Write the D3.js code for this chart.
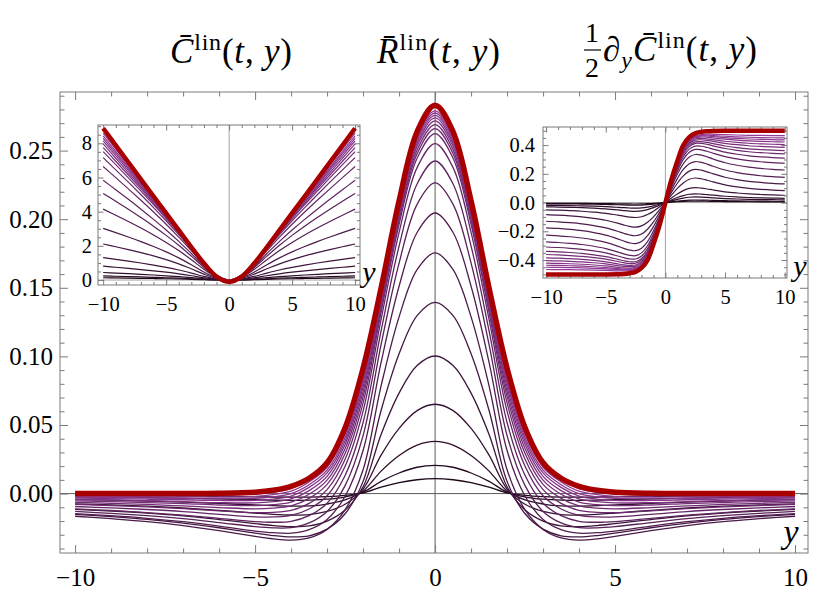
<!DOCTYPE html>
<html lang="en">
<head>
<meta charset="UTF-8">
<title>R lin family</title>
<script src="https://d3js.org/d3.v7.min.js"></script>
<style>
  body { margin: 0; background: #fff; }
  svg { display: block; }
</style>
</head>
<body>
<svg id="chart" width="830" height="600"></svg>
<script>
// ---- data (positive half only; R and C are even in y, the derivative is odd) ----
const yR = [0, 0.5, 1, 1.5, 2, 2.5, 3, 3.5, 4, 4.5, 5, 6, 7, 8, 9, 10];
const rCurves = [
  [0.0109, 0.0101, 0.0080, 0.0047, 0.0005, -0.0013, -0.0022, -0.0026, -0.0026, -0.0025, -0.0024, -0.0020, -0.0018, -0.0015, -0.0014, -0.0013],
  [0.0206, 0.0192, 0.0150, 0.0089, 0.0010, -0.0025, -0.0041, -0.0048, -0.0049, -0.0048, -0.0045, -0.0039, -0.0033, -0.0029, -0.0026, -0.0024],
  [0.0381, 0.0354, 0.0278, 0.0164, 0.0019, -0.0046, -0.0076, -0.0090, -0.0091, -0.0088, -0.0083, -0.0072, -0.0062, -0.0054, -0.0048, -0.0044],
  [0.0651, 0.0605, 0.0475, 0.0280, 0.0033, -0.0078, -0.0130, -0.0153, -0.0156, -0.0151, -0.0142, -0.0122, -0.0105, -0.0092, -0.0083, -0.0075],
  [0.1003, 0.0933, 0.0732, 0.0431, 0.0050, -0.0120, -0.0201, -0.0236, -0.0241, -0.0233, -0.0219, -0.0189, -0.0162, -0.0142, -0.0127, -0.0115],
  [0.1394, 0.1297, 0.1019, 0.0606, 0.0089, -0.0147, -0.0259, -0.0308, -0.0316, -0.0306, -0.0288, -0.0249, -0.0215, -0.0188, -0.0168, -0.0152],
  [0.1754, 0.1632, 0.1288, 0.0785, 0.0174, -0.0119, -0.0261, -0.0323, -0.0339, -0.0330, -0.0312, -0.0270, -0.0233, -0.0204, -0.0183, -0.0165],
  [0.2045, 0.1903, 0.1511, 0.0956, 0.0314, -0.0019, -0.0188, -0.0262, -0.0288, -0.0285, -0.0273, -0.0237, -0.0205, -0.0180, -0.0161, -0.0146],
  [0.2264, 0.2108, 0.1680, 0.1086, 0.0422, 0.0058, -0.0130, -0.0214, -0.0248, -0.0250, -0.0241, -0.0211, -0.0183, -0.0161, -0.0144, -0.0130],
  [0.2424, 0.2257, 0.1804, 0.1186, 0.0518, 0.0132, -0.0070, -0.0161, -0.0202, -0.0209, -0.0204, -0.0180, -0.0157, -0.0138, -0.0123, -0.0112],
  [0.2551, 0.2376, 0.1904, 0.1269, 0.0601, 0.0199, -0.0016, -0.0112, -0.0159, -0.0170, -0.0169, -0.0151, -0.0131, -0.0116, -0.0104, -0.0094],
  [0.2624, 0.2444, 0.1962, 0.1321, 0.0661, 0.0250, 0.0029, -0.0071, -0.0123, -0.0137, -0.0139, -0.0126, -0.0110, -0.0097, -0.0087, -0.0078],
  [0.2660, 0.2478, 0.1992, 0.1352, 0.0707, 0.0292, 0.0067, -0.0035, -0.0090, -0.0106, -0.0111, -0.0102, -0.0090, -0.0079, -0.0071, -0.0064],
  [0.2689, 0.2505, 0.2017, 0.1377, 0.0744, 0.0327, 0.0098, -0.0005, -0.0063, -0.0081, -0.0088, -0.0083, -0.0073, -0.0065, -0.0058, -0.0053],
  [0.2716, 0.2531, 0.2039, 0.1401, 0.0777, 0.0358, 0.0126, 0.0022, -0.0039, -0.0059, -0.0068, -0.0066, -0.0059, -0.0052, -0.0046, -0.0042],
  [0.2738, 0.2551, 0.2058, 0.1420, 0.0806, 0.0384, 0.0151, 0.0045, -0.0018, -0.0040, -0.0050, -0.0050, -0.0045, -0.0041, -0.0036, -0.0033],
  [0.2757, 0.2569, 0.2074, 0.1437, 0.0830, 0.0407, 0.0171, 0.0065, 0.0000, -0.0023, -0.0035, -0.0038, -0.0035, -0.0031, -0.0028, -0.0025],
  [0.2774, 0.2585, 0.2088, 0.1452, 0.0854, 0.0430, 0.0192, 0.0085, 0.0018, -0.0007, -0.0020, -0.0025, -0.0024, -0.0022, -0.0019, -0.0017],
  [0.2789, 0.2599, 0.2101, 0.1467, 0.0878, 0.0453, 0.0213, 0.0105, 0.0037, 0.0010, -0.0004, -0.0012, -0.0013, -0.0012, -0.0011, -0.0010]
];
const rFinal = [0.2830, 0.2637, 0.2133, 0.1498, 0.0914, 0.0480, 0.0225, 0.0112, 0.0053, 0.0024, 0.0010, 0.0002, 0, 0, 0, 0];

const yC = [0, 1, 2, 3, 4, 5, 6, 7, 8, 9, 10];
const cCurves = [
  [0, 0.006, 0.022, 0.041, 0.060, 0.075, 0.089, 0.101, 0.112, 0.123, 0.133],
  [0, 0.011, 0.039, 0.075, 0.107, 0.135, 0.160, 0.182, 0.202, 0.221, 0.239],
  [0, 0.020, 0.072, 0.138, 0.197, 0.249, 0.294, 0.334, 0.371, 0.406, 0.440],
  [0, 0.036, 0.132, 0.253, 0.363, 0.458, 0.541, 0.615, 0.684, 0.748, 0.809],
  [0, 0.059, 0.214, 0.409, 0.589, 0.742, 0.876, 0.997, 1.108, 1.211, 1.310],
  [0, 0.094, 0.345, 0.658, 0.948, 1.194, 1.410, 1.604, 1.783, 1.949, 2.108],
  [0, 0.129, 0.471, 0.897, 1.297, 1.647, 1.961, 2.249, 2.518, 2.774, 3.020],
  [0, 0.172, 0.626, 1.190, 1.725, 2.202, 2.637, 3.041, 3.424, 3.791, 4.147],
  [0, 0.204, 0.737, 1.399, 2.035, 2.614, 3.151, 3.657, 4.142, 4.611, 5.069],
  [0, 0.227, 0.818, 1.550, 2.263, 2.925, 3.549, 4.145, 4.721, 5.283, 5.835],
  [0, 0.254, 0.908, 1.718, 2.514, 3.264, 3.978, 4.666, 5.335, 5.991, 6.640],
  [0, 0.269, 0.960, 1.814, 2.660, 3.467, 4.241, 4.992, 5.726, 6.448, 7.160],
  [0, 0.278, 0.991, 1.870, 2.748, 3.591, 4.407, 5.201, 5.981, 6.750, 7.510],
  [0, 0.283, 1.006, 1.898, 2.793, 3.661, 4.504, 5.331, 6.145, 6.950, 7.750],
  [0, 0.287, 1.019, 1.920, 2.831, 3.720, 4.589, 5.443, 6.287, 7.124, 7.960],
  [0, 0.291, 1.032, 1.943, 2.868, 3.776, 4.667, 5.545, 6.416, 7.280, 8.140],
  [0, 0.293, 1.041, 1.959, 2.896, 3.819, 4.728, 5.626, 6.519, 7.406, 8.290],
  [0, 0.296, 1.046, 1.969, 2.913, 3.848, 4.775, 5.695, 6.610, 7.521, 8.430],
  [0, 0.300, 1.055, 1.982, 2.937, 3.889, 4.836, 5.779, 6.718, 7.656, 8.590]
];
const cFinal = [-0.1, 0.20, 0.98, 1.93, 2.92, 3.91, 4.90, 5.89, 6.89, 7.88, 8.88];

const yD = [0, 0.5, 1, 1.5, 2, 2.5, 3, 3.5, 4, 5, 6, 7, 8, 9, 10];
const dCurves = [
  [0, 0.0030, 0.0058, 0.0080, 0.0095, 0.0100, 0.0097, 0.0091, 0.0084, 0.0072, 0.0064, 0.0058, 0.0054, 0.0051, 0.0049],
  [0, 0.0054, 0.0104, 0.0144, 0.0171, 0.0180, 0.0175, 0.0164, 0.0151, 0.0130, 0.0115, 0.0104, 0.0097, 0.0092, 0.0088],
  [0, 0.0117, 0.0226, 0.0312, 0.0370, 0.0390, 0.0378, 0.0355, 0.0328, 0.0281, 0.0250, 0.0226, 0.0211, 0.0199, 0.0191],
  [0, 0.0183, 0.0354, 0.0488, 0.0580, 0.0610, 0.0592, 0.0555, 0.0512, 0.0439, 0.0390, 0.0354, 0.0329, 0.0311, 0.0299],
  [0, 0.0312, 0.0603, 0.0832, 0.0988, 0.1040, 0.1009, 0.0946, 0.0874, 0.0749, 0.0666, 0.0603, 0.0562, 0.0530, 0.0510],
  [0, 0.0513, 0.0992, 0.1368, 0.1625, 0.1710, 0.1659, 0.1556, 0.1436, 0.1231, 0.1094, 0.0992, 0.0923, 0.0872, 0.0838],
  [0, 0.0702, 0.1346, 0.1856, 0.2191, 0.2308, 0.2255, 0.2138, 0.1999, 0.1760, 0.1600, 0.1480, 0.1400, 0.1340, 0.1300],
  [0, 0.0878, 0.1670, 0.2304, 0.2709, 0.2856, 0.2803, 0.2678, 0.2527, 0.2264, 0.2088, 0.1956, 0.1868, 0.1802, 0.1758],
  [0, 0.1041, 0.1966, 0.2712, 0.3173, 0.3347, 0.3305, 0.3185, 0.3036, 0.2774, 0.2598, 0.2466, 0.2378, 0.2312, 0.2268],
  [0, 0.1163, 0.2181, 0.3008, 0.3502, 0.3697, 0.3672, 0.3569, 0.3436, 0.3200, 0.3040, 0.2920, 0.2840, 0.2780, 0.2740],
  [0, 0.1247, 0.2326, 0.3208, 0.3721, 0.3930, 0.3921, 0.3835, 0.3718, 0.3506, 0.3362, 0.3254, 0.3182, 0.3128, 0.3092],
  [0, 0.1315, 0.2442, 0.3368, 0.3895, 0.4116, 0.4120, 0.4050, 0.3949, 0.3762, 0.3634, 0.3538, 0.3474, 0.3426, 0.3394],
  [0, 0.1358, 0.2511, 0.3464, 0.3996, 0.4225, 0.4241, 0.4186, 0.4100, 0.3938, 0.3826, 0.3742, 0.3686, 0.3644, 0.3616],
  [0, 0.1403, 0.2587, 0.3568, 0.4107, 0.4343, 0.4372, 0.4332, 0.4261, 0.4124, 0.4028, 0.3956, 0.3908, 0.3872, 0.3848],
  [0, 0.1436, 0.2639, 0.3640, 0.4181, 0.4422, 0.4463, 0.4439, 0.4383, 0.4270, 0.4190, 0.4130, 0.4090, 0.4060, 0.4040],
  [0, 0.1471, 0.2697, 0.3720, 0.4266, 0.4513, 0.4564, 0.4551, 0.4506, 0.4412, 0.4344, 0.4293, 0.4259, 0.4234, 0.4217],
  [0, 0.1496, 0.2738, 0.3776, 0.4323, 0.4575, 0.4635, 0.4633, 0.4600, 0.4524, 0.4468, 0.4426, 0.4398, 0.4377, 0.4363],
  [0, 0.1512, 0.2758, 0.3804, 0.4347, 0.4602, 0.4672, 0.4685, 0.4666, 0.4615, 0.4575, 0.4545, 0.4525, 0.4510, 0.4500],
  [0, 0.1533, 0.2790, 0.3848, 0.4389, 0.4648, 0.4729, 0.4756, 0.4753, 0.4726, 0.4702, 0.4684, 0.4672, 0.4663, 0.4657]
];
const dFinal = [0, 0.160, 0.290, 0.400, 0.455, 0.482, 0.492, 0.497, 0.499, 0.500, 0.500, 0.500, 0.500, 0.500, 0.500];

// tick values
const mainXMajor = [-10, -5, 0, 5, 10];
const mainYMajor = [0, 0.05, 0.10, 0.15, 0.20, 0.25];
const insetXMajor = [-10, -5, 0, 5, 10];
const leftYMajor = [0, 2, 4, 6, 8];
const rightYMajor = [-0.4, -0.2, 0, 0.2, 0.4];

// ---- drawing ----
const FONT = "'Liberation Serif','DejaVu Serif',serif";
const svg = d3.select("#chart");
const frameGray = "#7a7a7a";
const curveColor = d3.scaleLinear().domain([0, rCurves.length - 1])
  .range(["#1c0618", "#953a98"]).interpolate(d3.interpolateRgb.gamma(1.3));

// mirrored point lists
function evenPts(ys, vs) {
  const left = ys.slice(1).map((y, i) => [-y, vs[i + 1]]).reverse();
  return left.concat(ys.map((y, i) => [y, vs[i]]));
}
function oddPts(ys, vs) {
  const left = ys.slice(1).map((y, i) => [-y, -vs[i + 1]]).reverse();
  return left.concat(ys.map((y, i) => [y, vs[i]]));
}
function range(a, b, s) {
  const out = [];
  for (let v = a; v <= b + 1e-9; v += s) out.push(+v.toFixed(4));
  return out;
}

function drawPanel(o) {
  const g = svg.append("g");
  const x = o.x, y = o.y;
  const [X0, X1] = x.range(), [Y0, Y1] = y.range();
  const id = "clip" + o.name;

  g.append("clipPath").attr("id", id).append("rect")
    .attr("x", X0).attr("y", Y1).attr("width", X1 - X0).attr("height", Y0 - Y1);
  g.append("rect").attr("x", X0).attr("y", Y1).attr("width", X1 - X0).attr("height", Y0 - Y1)
    .attr("fill", "#fff");

  // zero axes
  g.append("line").attr("x1", X0).attr("x2", X1).attr("y1", y(0)).attr("y2", y(0))
    .attr("stroke", o.axisColor).attr("stroke-width", 0.9);
  g.append("line").attr("x1", x(0)).attr("x2", x(0)).attr("y1", Y0).attr("y2", Y1)
    .attr("stroke", o.axisColor).attr("stroke-width", 0.9);

  // ticks on all four sides, pointing inward
  const xMinor = range(-10, 10, 1).filter(v => !o.xMajor.includes(v));
  const yMinor = o.yMinor.filter(v => !o.yMajor.some(m => Math.abs(m - v) < 1e-6));
  const axes = [
    [d3.axisBottom(x).tickValues(o.xMajor).tickSize(-o.major).tickPadding(o.xPad).tickFormat(d3.format("d")), `translate(0,${Y0})`],
    [d3.axisBottom(x).tickValues(xMinor).tickSize(-o.minor).tickFormat(""), `translate(0,${Y0})`],
    [d3.axisTop(x).tickValues(o.xMajor).tickSize(-o.major).tickFormat(""), `translate(0,${Y1})`],
    [d3.axisTop(x).tickValues(xMinor).tickSize(-o.minor).tickFormat(""), `translate(0,${Y1})`],
    [d3.axisLeft(y).tickValues(o.yMajor).tickSize(-o.major).tickPadding(o.yPad).tickFormat(o.yFormat), `translate(${X0},0)`],
    [d3.axisLeft(y).tickValues(yMinor).tickSize(-o.minor).tickFormat(""), `translate(${X0},0)`],
    [d3.axisRight(y).tickValues(o.yMajor).tickSize(-o.major).tickFormat(""), `translate(${X1},0)`],
    [d3.axisRight(y).tickValues(yMinor).tickSize(-o.minor).tickFormat(""), `translate(${X1},0)`]
  ];
  axes.forEach(([ax, tr]) => {
    const a = g.append("g").attr("transform", tr).call(ax);
    a.select(".domain").remove();
    a.selectAll(".tick line").attr("stroke", frameGray).attr("stroke-width", 1);
    a.selectAll(".tick text").attr("font-family", FONT).attr("font-size", o.fontSize).attr("fill", "#000");
  });

  // curves
  const line = d3.line().x(d => x(d[0])).y(d => y(d[1])).curve(d3.curveCatmullRom.alpha(0.5));
  const cg = g.append("g").attr("clip-path", `url(#${id})`);
  o.curves.forEach((vs, k) => {
    cg.append("path").attr("d", line(o.pts(o.ys, vs)))
      .attr("fill", "none").attr("stroke", curveColor(k)).attr("stroke-width", o.thin);
  });
  cg.append("path").attr("d", line(o.pts(o.ys, o.final)))
    .attr("fill", "none").attr("stroke", "#a80000").attr("stroke-width", o.thick)
    .attr("stroke-linejoin", "round");

  // frame
  g.append("rect").attr("x", X0).attr("y", Y1).attr("width", X1 - X0).attr("height", Y0 - Y1)
    .attr("fill", "none").attr("stroke", frameGray).attr("stroke-width", 1);

  // axis variable label
  g.append("text").attr("x", o.yLabel[0]).attr("y", o.yLabel[1])
    .attr("font-family", FONT).attr("font-style", "italic").attr("font-size", o.yLabel[2])
    .attr("text-anchor", "middle").text("y");
}

// main panel
drawPanel({
  name: "main",
  x: d3.scaleLinear().domain([-10.42, 10.36]).range([60, 808]),
  y: d3.scaleLinear().domain([-0.0433, 0.2927]).range([553, 92]),
  xMajor: mainXMajor, yMajor: mainYMajor, yMinor: range(-0.04, 0.29, 0.01),
  yFormat: d3.format(".2f"),
  major: 8, minor: 4.5, xPad: 15, yPad: 7, fontSize: 25,
  axisColor: "#4a4a4a",
  ys: yR, curves: rCurves, final: rFinal, pts: evenPts, thin: 1.3, thick: 5.5,
  yLabel: [791, 543, 34]
});

// left inset
drawPanel({
  name: "left",
  x: d3.scaleLinear().domain([-10.41, 10.39]).range([98, 360]),
  y: d3.scaleLinear().domain([-0.29, 9.07]).range([285, 125]),
  xMajor: insetXMajor, yMajor: leftYMajor, yMinor: range(0, 9, 0.5),
  yFormat: d3.format("d"),
  major: 5.5, minor: 3, xPad: 11, yPad: 6, fontSize: 20.5,
  axisColor: "#9a9a9a",
  ys: yC, curves: cCurves, final: cFinal, pts: evenPts, thin: 1.2, thick: 4.5,
  yLabel: [369, 282, 30]
});

// right inset
drawPanel({
  name: "right",
  x: d3.scaleLinear().domain([-10.26, 10.19]).range([543, 787]),
  y: d3.scaleLinear().domain([-0.525, 0.526]).range([278, 127]),
  xMajor: insetXMajor, yMajor: rightYMajor, yMinor: range(-0.5, 0.5, 0.05),
  yFormat: d3.format(".1f"),
  major: 5.5, minor: 3, xPad: 11, yPad: 8, fontSize: 20.5,
  axisColor: "#9a9a9a",
  ys: yD, curves: dCurves, final: dFinal, pts: oddPts, thin: 1.2, thick: 4.5,
  yLabel: [800, 276, 30]
});

// ---- titles ----
function mathLabel(x, y, size, width, parts) {
  const t = svg.append("text").attr("x", x).attr("y", y)
    .attr("font-family", FONT).attr("font-size", size).attr("fill", "#000")
    .attr("textLength", width).attr("lengthAdjust", "spacing");
  parts.forEach(([s, o = {}]) => {
    const ts = t.append("tspan").text(s);
    if (o.it) ts.attr("font-style", "italic");
    if (o.fs) ts.attr("font-size", o.fs);
    if (o.dy) ts.attr("dy", o.dy);
  });
}
const sup = (s) => [s, { fs: 24, dy: -13 }];
const tail = [["(", { dy: 13 }], ["t", { it: 1 }], [", "], ["y", { it: 1 }], [")"]];

mathLabel(170, 63, 35, 122, [["C\u0304", { it: 1 }], sup("lin")].concat(tail));
mathLabel(377, 63, 35, 123, [["R\u0304", { it: 1 }], sup("lin")].concat(tail));

svg.append("text").attr("x", 592).attr("y", 42).attr("text-anchor", "middle")
  .attr("font-family", FONT).attr("font-size", 28).text("1");
svg.append("line").attr("x1", 584).attr("x2", 601).attr("y1", 50).attr("y2", 50)
  .attr("stroke", "#000").attr("stroke-width", 1.2);
svg.append("text").attr("x", 592).attr("y", 77).attr("text-anchor", "middle")
  .attr("font-family", FONT).attr("font-size", 28).text("2");
mathLabel(603, 61, 35, 154, [["\u2202", { it: 1 }], ["y", { it: 1, fs: 24, dy: 7 }], ["C\u0304", { it: 1, dy: -7 }], sup("lin")].concat(tail));
</script>
</body>
</html>
